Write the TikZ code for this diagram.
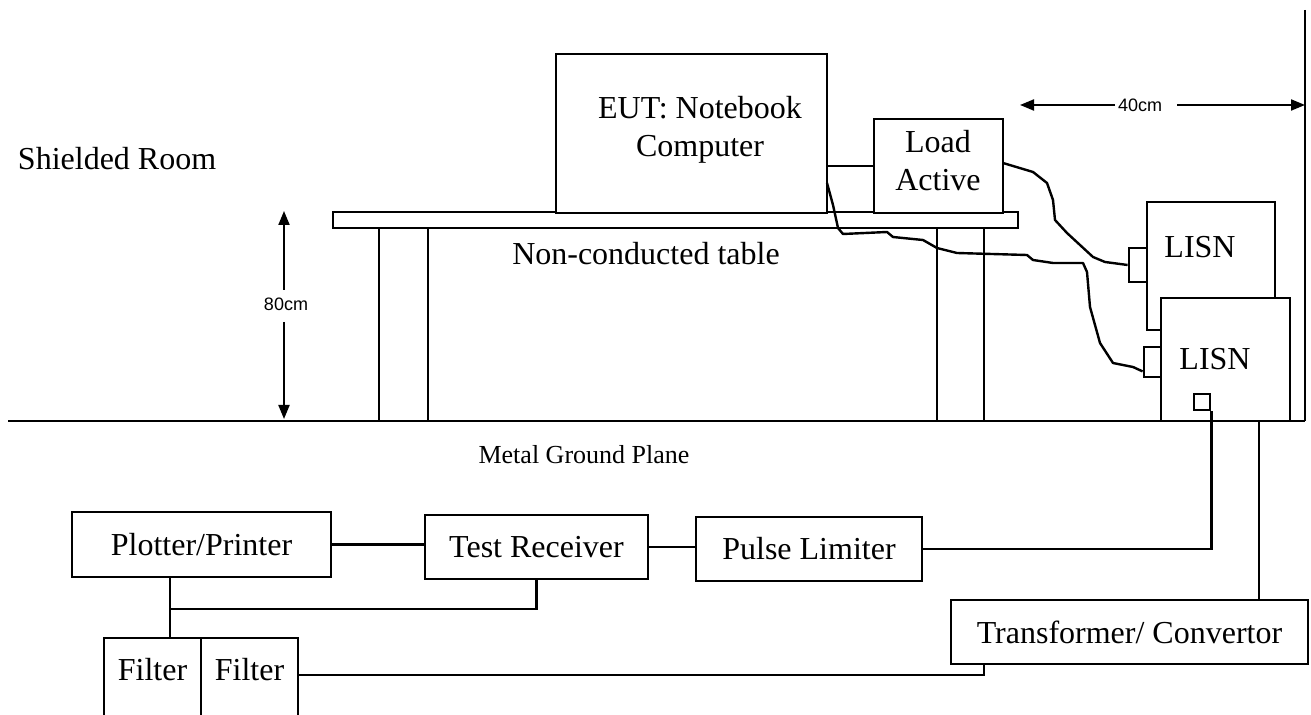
\documentclass[tikz,border=0pt]{standalone}
\usepackage{fontspec}
\setmainfont{Liberation Serif}
\newfontfamily\arialfont{Liberation Sans}
\usetikzlibrary{arrows.meta,calc}
\begin{document}
\begin{tikzpicture}[x=0.5pt,y=-0.5pt,
  line width=1pt,
  box/.style={draw, line width=1.4pt, inner sep=0pt, fill=white},
  txt/.style={inner sep=0pt, font=\fontsize{16}{19}\selectfont},
  smalltxt/.style={inner sep=0pt, font=\fontsize{13}{15}\selectfont},
  dim/.style={inner sep=1pt, font=\arialfont\fontsize{9}{10}\selectfont},
  shape line/.style={line width=1.4pt},
  wire/.style={line width=1.2pt},
  cable/.style={line width=1.2pt, line join=round},
  arr/.style={line width=1pt, -{Triangle[length=7pt,width=5.5pt]}}
]
\useasboundingbox (0,0) rectangle (1311,715);

% room labels
\node[txt, anchor=base west] (room) at (17,170) {Shielded Room};

% ground plane and wall
\draw[shape line] (8,421) -- (1305,421);
\draw[shape line] (1305,10) -- (1305,421);
\node[smalltxt, anchor=base] (plane) at (584,464) {Metal Ground Plane};

% table
\node[box, minimum width=342.5pt, minimum height=8pt] (table) at (675.5,220) {};
\draw[shape line] (379,228) -- (379,421);
\draw[shape line] (428,228) -- (428,421);
\draw[shape line] (937,228) -- (937,421);
\draw[shape line] (984,228) -- (984,421);
\node[txt, anchor=base] (tablelbl) at (646,265) {Non-conducted table};

% EUT and load
\node[box, minimum width=135.5pt, minimum height=79.5pt] (eut) at (691.5,133.5) {};
\node[txt, align=center] (eutlbl) at (700,129.5) {EUT: Notebook\\Computer};
\node[box, minimum width=64.5pt, minimum height=47pt] (load) at (938.5,166) {};
\node[txt, align=center] (loadlbl) at (938,161) {Load\\Active};
\draw[wire] (eut.east |- load.west) -- (load.west);

% LISNs
\node[box, minimum width=64pt, minimum height=64pt] (lisn1) at (1211,266) {};
\node[box, minimum width=64.5pt, minimum height=61.5pt] (lisn2) at (1225.5,359.5) {};
\node[txt, anchor=base] (lisn1lbl) at (1200,258) {LISN};
\node[txt, anchor=base] (lisn2lbl) at (1215,370) {LISN};
\node[box, minimum width=9pt, minimum height=17pt] (con1) at (1138,265) {};
\node[box, minimum width=8.5pt, minimum height=15pt] (con2) at (1152.5,362) {};
\node[box, minimum size=8pt] (port) at (1202,402) {};

% cables
\coordinate (c1s) at (827,183);
\coordinate (c1e) at ($(con2.south west)+(0,-7)$);
\draw[cable] (c1s) -- (833,205) -- (838,228) -- (843,234) -- (887,232) -- (893,237)
  -- (923,240) -- (937,248) -- (957,253) -- (1027,255) -- (1033,260) -- (1053,263)
  -- (1083,263) -- (1087,272) -- (1090,307) -- (1100,343) -- (1113,363) -- (1133,367) -- (c1e);
\coordinate (c2s) at (1003,163);
\draw[cable] (c2s) -- (1033,172) -- (1047,183) -- (1053,200) -- (1055,220) -- (1067,233)
  -- (1093,257) -- (1105,262) -- (con1.west);

% dimensions
\coordinate (a80t) at (284,211);
\coordinate (a80b) at (284,419);
\node[dim] (l80) at (286,304) {80cm};
\draw[arr] (a80t |- 0,290) -- (a80t);
\draw[arr] (a80b |- 0,322) -- (a80b);
\coordinate (a40l) at (1020,105);
\coordinate (a40r) at (1305,105);
\node[dim] (l40) at (1140,105) {40cm};
\draw[arr] (l40.west) -- (a40l);
\draw[arr] ($(l40.east)+(12,0)$) -- (a40r);

% measurement chain
\node[box, txt, minimum width=129.5pt, minimum height=32.5pt] (plot) at (201.5,544.5) {Plotter/Printer};
\node[box, txt, minimum width=111.5pt, minimum height=32pt] (recv) at (536.5,547) {Test Receiver};
\node[box, txt, minimum width=113pt, minimum height=32pt] (pulse) at (809,549) {Pulse Limiter};
\node[box, txt, minimum width=178.5pt, minimum height=32pt] (trans) at (1129.5,632) {Transformer/ Convertor};

% filters (open at the bottom)
\draw[shape line] (104,715) -- (104,638) -- (298,638) -- (298,715);
\draw[shape line] (201,638) -- (201,715);
\node[txt, anchor=base] (f1) at (152.5,680) {Filter};
\node[txt, anchor=base] (f2) at (249.5,680) {Filter};
\coordinate (filtop) at (170,638);
\coordinate (filR) at (298,675);

% connections
\draw[wire] (plot.east) -- (plot.east -| recv.west);
\draw[wire] (recv.east) -- (recv.east -| pulse.west);
\draw[wire] (pulse.east) -- (port.south east |- pulse.east) -- (port.south east);
\coordinate (tx) at (1259,421);
\draw[wire] (tx) -- (tx |- trans.north);
\draw[wire] (plot.south -| filtop) -- (filtop);
\coordinate (br) at (170,609);
\draw[wire] (br) -| (recv.south);
\coordinate (tb) at (984,664);
\draw[wire] (filR) -| (tb);
\end{tikzpicture}
\end{document}
